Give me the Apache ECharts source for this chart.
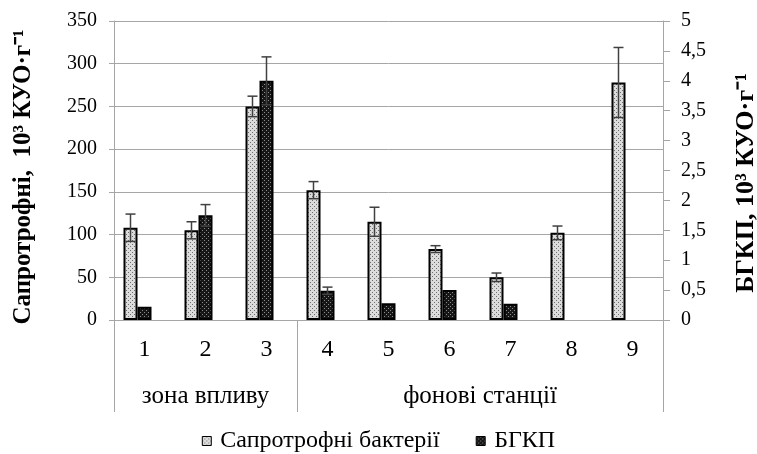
<!DOCTYPE html>
<html>
<head>
<meta charset="utf-8">
<script src="https://cdn.jsdelivr.net/npm/echarts@6/dist/echarts.min.js"></script>
<style>
  html, body { margin: 0; padding: 0; background: #fff; }
  #main { width: 757px; height: 454px; }
</style>
</head>
<body>
<div id="main"></div>
<script>
// станції
var stations = ['1', '2', '3', '4', '5', '6', '7', '8', '9'];
// групи станцій: назви та межі (індекси категорій)
var groupNames = ['зона впливу', 'фонові станції'];
var groupBounds = [0, 3, 9];

// сапротрофні бактерії, 10^3 КУО/г
var saproValues = [108, 105, 250, 152, 115, 83, 50, 102, 278];
var saproErrors = [16, 10, 12, 10, 17, 4, 5, 8, 41];
// БГКП, 10^3 КУО/г
var bgkpValues = [0.22, 1.75, 4.0, 0.49, 0.28, 0.5, 0.27, null, null];
var bgkpErrors = [null, 0.18, 0.4, 0.06, null, null, null, null, null];

var leftTicks = { min: 0, max: 350, interval: 50 };
var rightTicks = { min: 0, max: 5, interval: 0.5 };

var FONT = 'Liberation Serif';

function makePattern(bg, dot, step) {
    var c = document.createElement('canvas');
    c.width = step * 2; c.height = step * 2;
    var ctx = c.getContext('2d');
    ctx.fillStyle = bg;
    ctx.fillRect(0, 0, c.width, c.height);
    ctx.fillStyle = dot;
    ctx.fillRect(0, 0, 1, 1);
    ctx.fillRect(step, step, 1, 1);
    return { image: c, repeat: 'repeat' };
}

var saproFill = makePattern('#dcdcdc', '#6e6e6e', 2);
var bgkpFill = makePattern('#161616', '#8c8c8c', 2);

function errData(vals, errs) {
    var out = [];
    for (var i = 0; i < vals.length; i++) {
        if (vals[i] != null && errs[i] != null) out.push([i, vals[i], errs[i]]);
    }
    return out;
}

function errRender(offset) {
    return function (params, api) {
        var i = api.value(0), v = api.value(1), e = api.value(2);
        var top = api.coord([i, v + e]);
        var bot = api.coord([i, v - e]);
        var x = top[0] + offset;
        var cap = 5;
        var st = { stroke: '#404040', lineWidth: 1.5 };
        return {
            type: 'group',
            children: [
                { type: 'line', shape: { x1: x, y1: top[1], x2: x, y2: bot[1] }, style: st },
                { type: 'line', shape: { x1: x - cap, y1: top[1], x2: x + cap, y2: top[1] }, style: st },
                { type: 'line', shape: { x1: x - cap, y1: bot[1], x2: x + cap, y2: bot[1] }, style: st }
            ]
        };
    };
}

var myChart = echarts.init(document.getElementById('main'));
myChart.setOption({
    animation: false,
    textStyle: { fontFamily: FONT, color: '#000' },
    grid: { left: 114, right: 94, top: 21, bottom: 134, containLabel: false, outerBoundsMode: 'none' },
    legend: {
        data: ['Сапротрофні бактерії', 'БГКП'],
        top: 424,
        left: 'center',
        icon: 'rect',
        itemWidth: 9,
        itemHeight: 9,
        itemGap: 36,
        itemStyle: { borderWidth: 1 },
        textStyle: { fontFamily: FONT, fontSize: 24, color: '#000', padding: [0, 0, 0, 4] }
    },
    xAxis: [
        {
            type: 'category',
            data: stations,
            axisLine: { lineStyle: { color: '#a6a6a6', width: 1 } },
            axisTick: { interval: 0, length: 45, lineStyle: { color: '#a6a6a6' } },
            axisLabel: { interval: 0, margin: 18, fontSize: 24, color: '#000', fontFamily: FONT }
        },
        {
            type: 'value',
            position: 'bottom',
            min: groupBounds[0],
            max: groupBounds[groupBounds.length - 1],
            axisLine: { show: false },
            splitLine: { show: false },
            axisTick: { customValues: groupBounds, length: 92, lineStyle: { color: '#a6a6a6' } },
            axisLabel: {
                customValues: groupNames.map(function (n, k) { return (groupBounds[k] + groupBounds[k + 1]) / 2; }),
                formatter: function (val) {
                    for (var k = 0; k < groupNames.length; k++) {
                        if (val === (groupBounds[k] + groupBounds[k + 1]) / 2) return groupNames[k];
                    }
                    return '';
                },
                margin: 64, fontSize: 25, color: '#000', fontFamily: FONT
            }
        }
    ],
    yAxis: [
        {
            type: 'value',
            min: leftTicks.min, max: leftTicks.max, interval: leftTicks.interval,
            name: 'Сапротрофні,  10³ КУО·г⁻¹',
            nameLocation: 'middle',
            nameRotate: 90,
            nameGap: 78,
            nameTextStyle: { fontFamily: FONT, fontSize: 25, fontWeight: 'bold', color: '#000', padding: [0, 13, 0, 0] },
            axisLine: { show: true, lineStyle: { color: '#a6a6a6' } },
            axisTick: { show: true, length: 5, lineStyle: { color: '#a6a6a6' } },
            axisLabel: { margin: 17, fontSize: 20, color: '#000', fontFamily: FONT },
            splitLine: { lineStyle: { color: '#a6a6a6', width: 1 } }
        },
        {
            type: 'value',
            min: rightTicks.min, max: rightTicks.max, interval: rightTicks.interval,
            name: 'БГКП, 10³ КУО·г⁻¹',
            nameLocation: 'middle',
            nameRotate: 90,
            nameGap: 70,
            nameTextStyle: { fontFamily: FONT, fontSize: 26, fontWeight: 'bold', color: '#000', padding: [0, 25, 0, 0] },
            axisLine: { show: true, lineStyle: { color: '#a6a6a6' } },
            axisTick: { show: true, length: 7, lineStyle: { color: '#a6a6a6' } },
            axisLabel: {
                margin: 18, fontSize: 20, color: '#000', fontFamily: FONT,
                formatter: function (v) { return String(v).replace('.', ','); }
            },
            splitLine: { show: false }
        }
    ],
    series: [
        {
            name: 'Сапротрофні бактерії',
            type: 'bar',
            xAxisIndex: 0, yAxisIndex: 0,
            barWidth: 14,
            barGap: '0%',
            data: saproValues,
            itemStyle: { color: saproFill, borderColor: '#000', borderWidth: 2 }
        },
        {
            name: 'БГКП',
            type: 'bar',
            xAxisIndex: 0, yAxisIndex: 1,
            barWidth: 14,
            barGap: '0%',
            data: bgkpValues,
            itemStyle: { color: bgkpFill, borderColor: '#000', borderWidth: 2 }
        },
        {
            // порожня третя колонка, як у вихідній діаграмі
            name: 'spacer',
            type: 'bar',
            xAxisIndex: 0, yAxisIndex: 0,
            barWidth: 14,
            barGap: '0%',
            data: stations.map(function () { return null; }),
            itemStyle: { color: 'transparent' }
        },
        {
            type: 'custom',
            xAxisIndex: 0, yAxisIndex: 0,
            renderItem: errRender(-14),
            data: errData(saproValues, saproErrors),
            z: 5
        },
        {
            type: 'custom',
            xAxisIndex: 0, yAxisIndex: 1,
            renderItem: errRender(0),
            data: errData(bgkpValues, bgkpErrors),
            z: 5
        }
    ]
});
</script>
</body>
</html>
